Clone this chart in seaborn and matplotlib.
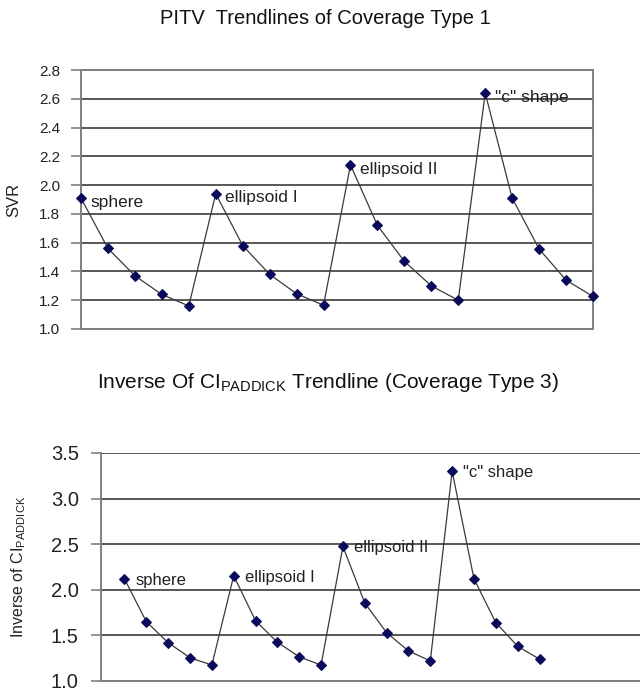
import numpy as np
import pandas as pd
import matplotlib
matplotlib.use("Agg")
import matplotlib.pyplot as plt
import seaborn as sns

# shape labels, each placed at the first point of its group of five
shapes = ['sphere', 'ellipsoid I', 'ellipsoid II', '"c" shape']

svr = [1.91, 1.56, 1.37, 1.24, 1.16,
       1.94, 1.58, 1.38, 1.245, 1.165,
       2.14, 1.72, 1.47, 1.30, 1.20,
       2.64, 1.91, 1.556, 1.34, 1.226]

inv_ci = [2.12, 1.65, 1.42, 1.255, 1.175,
          2.155, 1.66, 1.425, 1.265, 1.175,
          2.475, 1.855, 1.53, 1.33, 1.22,
          3.30, 2.12, 1.64, 1.38, 1.24]

svr_ticks = [1.0, 1.2, 1.4, 1.6, 1.8, 2.0, 2.2, 2.4, 2.6, 2.8]
ci_ticks = [1.0, 1.5, 2.0, 2.5, 3.0, 3.5]

top = pd.DataFrame({'x': np.arange(1, 21), 'y': svr})
bot = pd.DataFrame({'x': np.arange(1, 21), 'y': inv_ci})

sns.set_style('white')
plt.rcParams['font.family'] = ['Liberation Sans', 'DejaVu Sans']
plt.rcParams['mathtext.fontset'] = 'custom'
plt.rcParams['mathtext.rm'] = 'Liberation Sans'

W, H = 640, 690
fig = plt.figure(figsize=(W / 100, H / 100), dpi=100)
fig.patch.set_facecolor('white')

grid_c = '#4a4a4a'
frame_c = '#808080'
mark_c = '#0a0a5a'
line_c = '#3a3a3a'
text_c = '#222222'


def style_axes(ax, ticks, tick_fs, pad):
    ax.set_yticks(ticks)
    ax.set_yticklabels(['%.1f' % t for t in ticks], fontsize=tick_fs, color=text_c)
    ax.set_xticks([])
    ax.grid(False)
    for t in ticks:
        ax.axhline(t, color=grid_c, lw=1.3, zorder=1)
    ax.tick_params(axis='y', length=7, width=1.2, color=frame_c, pad=pad, left=True)
    for s in ax.spines.values():
        s.set_color(frame_c)
        s.set_linewidth(1.4)


# top chart
ax1 = fig.add_axes([81 / W, 1 - 329 / H, (593 - 81) / W, (329 - 70) / H])
sns.lineplot(data=top, x='x', y='y', ax=ax1, color=line_c, lw=0.9,
             marker='D', markersize=5.5, markerfacecolor=mark_c,
             markeredgecolor=mark_c, clip_on=False, zorder=3)
ax1.set_xlim(1, 20)
ax1.set_ylim(1.0, 2.8)
style_axes(ax1, svr_ticks, 11, 8)
ax1.set_xlabel('')
ax1.set_ylabel('SVR', fontsize=12, color=text_c)
ax1.yaxis.set_label_coords(-0.117, 0.5)
for i, name in enumerate(shapes):
    k = i * 5
    ax1.annotate(name, (top.x[k], top.y[k]), xytext=(7, -3), textcoords='offset points',
                 fontsize=12.5, color=text_c, va='center', ha='left')
fig.text(325 / W, 1 - 19 / H, 'PITV  Trendlines of Coverage Type 1',
         ha='center', va='center', fontsize=14.5, color='#111111')

# bottom chart
ax2 = fig.add_axes([101 / W, 1 - 681 / H, (W - 101) / W, (681 - 453) / H])
sns.lineplot(data=bot, x='x', y='y', ax=ax2, color=line_c, lw=0.9,
             marker='D', markersize=5.5, markerfacecolor=mark_c,
             markeredgecolor=mark_c, zorder=3)
ax2.set_xlim(-0.075, 24.6)
ax2.set_ylim(1.0, 3.5)
style_axes(ax2, ci_ticks, 14.5, 9)
ax2.spines['right'].set_visible(False)
ax2.spines['top'].set_visible(False)
ax2.set_xlabel('')
ax2.set_ylabel(r'Inverse of CI$_{\mathregular{PADDICK}}$', fontsize=11.5, color=text_c)
ax2.yaxis.set_label_coords(-0.135, 0.5)
for i, name in enumerate(shapes):
    k = i * 5
    ax2.annotate(name, (bot.x[k], bot.y[k]), xytext=(8, -1), textcoords='offset points',
                 fontsize=12, color=text_c, va='center', ha='left')
fig.text(328 / W, 1 - 383 / H,
         r'Inverse Of CI$_{\mathregular{PADDICK}}$ Trendline (Coverage Type 3)',
         ha='center', va='center', fontsize=15, color='#111111')

fig.savefig('out.png', dpi=100, facecolor='white')
